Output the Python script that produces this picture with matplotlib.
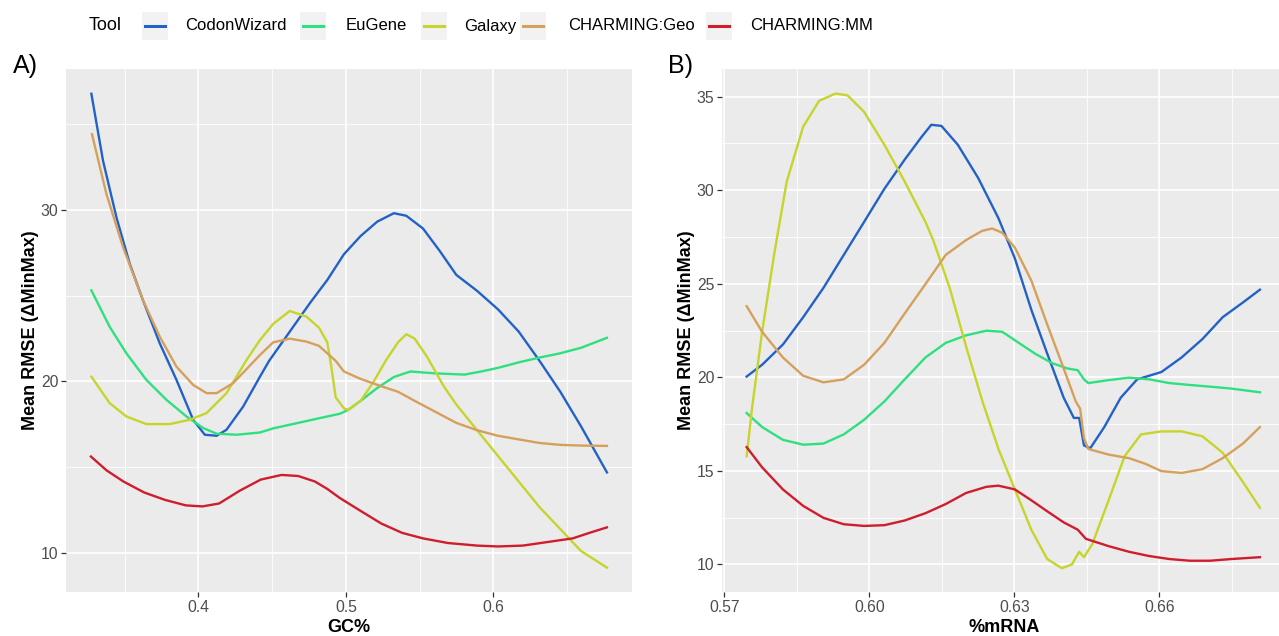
import matplotlib
matplotlib.use("Agg")
import matplotlib.pyplot as plt
from matplotlib.patches import Rectangle
from matplotlib.lines import Line2D

plt.rcParams["font.family"] = ["Liberation Sans", "DejaVu Sans"]

tools = ["CodonWizard", "EuGene", "Galaxy", "CHARMING:Geo", "CHARMING:MM"]
colors = ["#2262C6", "#2EE07E", "#C6D42C", "#D5A05C", "#CF1D2D"]

# Panel A: Mean RMSE vs GC%
a_cw_x = [0.3275, 0.3354, 0.3445, 0.3535, 0.3625, 0.3739, 0.3852, 0.3965, 0.4044, 0.4124, 0.4191,
          0.4304, 0.4418, 0.448, 0.462, 0.476, 0.4874, 0.4987, 0.51, 0.5213, 0.5326, 0.541, 0.5523,
          0.5636, 0.5749, 0.589, 0.6031, 0.6172, 0.6313, 0.6454, 0.6595, 0.677]
a_cw_y = [36.74, 32.84, 29.55, 26.85, 24.72, 22.21, 20.09, 17.77, 16.9, 16.84, 17.19,
          18.54, 20.28, 21.2, 22.9, 24.6, 25.9, 27.4, 28.46, 29.3, 29.79, 29.64, 28.9,
          27.6, 26.2, 25.27, 24.2, 22.9, 21.2, 19.4, 17.38, 14.71]

a_eu_x = [0.3275, 0.3399, 0.3513, 0.3648, 0.3784, 0.392, 0.4033, 0.4124, 0.4259, 0.4418, 0.4508,
          0.4677, 0.4846, 0.4959, 0.5015, 0.51, 0.5213, 0.5326, 0.5438, 0.5608, 0.5805, 0.5918,
          0.6031, 0.6172, 0.6313, 0.6454, 0.6595, 0.677]
a_eu_y = [25.3, 23.18, 21.63, 20.09, 18.93, 17.96, 17.29, 16.96, 16.9, 17.03, 17.27,
          17.59, 17.91, 18.12, 18.34, 18.87, 19.62, 20.26, 20.58, 20.47, 20.4, 20.58,
          20.79, 21.11, 21.39, 21.64, 21.96, 22.54]

a_ga_x = [0.3275, 0.3399, 0.3513, 0.3648, 0.3806, 0.3942, 0.4056, 0.4191, 0.4327, 0.4418, 0.4508,
          0.462, 0.4733, 0.4818, 0.4874, 0.4903, 0.4931, 0.4987, 0.5015, 0.51, 0.5185, 0.527,
          0.5354, 0.541, 0.5467, 0.5551, 0.5664, 0.5749, 0.589, 0.6031, 0.6172, 0.6313, 0.6454,
          0.6595, 0.677]
a_ga_y = [20.28, 18.74, 17.96, 17.52, 17.52, 17.77, 18.16, 19.32, 21.25, 22.41, 23.35,
          24.1, 23.77, 23.13, 22.28, 20.79, 19.08, 18.44, 18.34, 18.87, 19.94, 21.2,
          22.28, 22.75, 22.49, 21.43, 19.72, 18.66, 17.16, 15.67, 14.18, 12.69, 11.41,
          10.13, 9.17]

a_geo_x = [0.3279, 0.3377, 0.349, 0.3625, 0.3739, 0.3852, 0.3965, 0.4056, 0.4124, 0.4236, 0.4418,
           0.4508, 0.462, 0.4733, 0.4818, 0.4874, 0.4931, 0.4987, 0.51, 0.5241, 0.5354, 0.5467,
           0.5608, 0.5749, 0.589, 0.6031, 0.6172, 0.6313, 0.6454, 0.6595, 0.677]
a_geo_y = [34.39, 30.91, 27.81, 24.72, 22.6, 20.86, 19.8, 19.32, 19.32, 19.9, 21.54,
           22.28, 22.49, 22.32, 22.07, 21.64, 21.2, 20.58, 20.15, 19.72, 19.4, 18.87,
           18.23, 17.59, 17.16, 16.84, 16.63, 16.42, 16.31, 16.27, 16.25]

a_mm_x = [0.3272, 0.3379, 0.3492, 0.3633, 0.3774, 0.3915, 0.4028, 0.4141, 0.4282, 0.4423, 0.4564,
          0.4677, 0.479, 0.4874, 0.4959, 0.51, 0.5241, 0.5382, 0.5523, 0.5692, 0.589, 0.6031,
          0.62, 0.6369, 0.6538, 0.6651, 0.677]
a_mm_y = [15.63, 14.82, 14.18, 13.54, 13.11, 12.79, 12.73, 12.9, 13.65, 14.29, 14.56,
          14.5, 14.18, 13.75, 13.22, 12.47, 11.73, 11.19, 10.87, 10.6, 10.45, 10.4,
          10.45, 10.66, 10.87, 11.19, 11.51]

# Panel B: Mean RMSE vs %mRNA
b_cw_x = [0.5746, 0.5778, 0.5821, 0.5863, 0.5905, 0.5947, 0.5989, 0.6031, 0.6073, 0.6107, 0.6128,
          0.6149, 0.6183, 0.6225, 0.6267, 0.6301, 0.6335, 0.6368, 0.6402, 0.6423, 0.6434, 0.6444,
          0.6457, 0.6486, 0.652, 0.6554, 0.6604, 0.6646, 0.6689, 0.6731, 0.6773, 0.6808]
b_cw_y = [20.04, 20.67, 21.75, 23.21, 24.78, 26.54, 28.3, 30.07, 31.63, 32.81, 33.49,
          33.43, 32.42, 30.65, 28.5, 26.35, 23.61, 21.26, 18.91, 17.83, 17.83, 16.36,
          16.21, 17.34, 18.91, 19.89, 20.28, 21.06, 22.04, 23.21, 24.0, 24.68]

b_eu_x = [0.5746, 0.5778, 0.5821, 0.5863, 0.5905, 0.5947, 0.5989, 0.6031, 0.6073, 0.6116, 0.6158,
          0.62, 0.6242, 0.6275, 0.6309, 0.6343, 0.6377, 0.641, 0.6431, 0.6444, 0.6453, 0.6495,
          0.6537, 0.6579, 0.6621, 0.6663, 0.6705, 0.6748, 0.6808]
b_eu_y = [18.09, 17.34, 16.66, 16.4, 16.46, 16.95, 17.73, 18.71, 19.89, 21.06, 21.84,
          22.24, 22.49, 22.43, 21.84, 21.26, 20.77, 20.47, 20.38, 19.89, 19.69, 19.85,
          19.98, 19.89, 19.69, 19.59, 19.5, 19.4, 19.2]

b_ga_x = [0.5746, 0.5757, 0.5778, 0.5804, 0.5829, 0.5863, 0.5896, 0.593, 0.5955, 0.5989, 0.6031,
          0.6073, 0.6116, 0.6132, 0.6166, 0.62, 0.6234, 0.6267, 0.6301, 0.6335, 0.6368, 0.6398,
          0.6419, 0.6434, 0.6444, 0.6461, 0.6495, 0.6528, 0.6562, 0.6604, 0.6646, 0.6689, 0.6731,
          0.6773, 0.6808]
b_ga_y = [15.78, 18.32, 22.43, 26.74, 30.46, 33.39, 34.77, 35.16, 35.06, 34.18, 32.42,
          30.46, 28.3, 27.33, 24.78, 21.65, 18.71, 16.17, 14.01, 11.86, 10.29, 9.8,
          10.0, 10.68, 10.39, 11.08, 13.43, 15.78, 16.95, 17.11, 17.11, 16.85, 15.97,
          14.4, 13.03]

b_geo_x = [0.5746, 0.5778, 0.5821, 0.5863, 0.5905, 0.5947, 0.5989, 0.6031, 0.6073, 0.6116, 0.6158,
           0.62, 0.6233, 0.6254, 0.6275, 0.6301, 0.6335, 0.6368, 0.6402, 0.6427, 0.6436, 0.6444,
           0.6453, 0.6495, 0.6537, 0.6571, 0.6604, 0.6646, 0.6689, 0.6731, 0.6773, 0.6808]
b_geo_y = [23.8, 22.43, 21.06, 20.08, 19.73, 19.89, 20.67, 21.84, 23.41, 24.98, 26.54,
           27.33, 27.82, 27.95, 27.72, 26.93, 25.17, 22.82, 20.47, 18.71, 18.32, 16.75,
           16.17, 15.87, 15.68, 15.38, 14.99, 14.89, 15.09, 15.68, 16.46, 17.34]

b_mm_x = [0.5746, 0.5778, 0.5821, 0.5863, 0.5905, 0.5947, 0.5989, 0.6031, 0.6073, 0.6116, 0.6158,
          0.62, 0.6242, 0.6267, 0.6301, 0.6335, 0.6368, 0.6402, 0.6431, 0.6448, 0.6495, 0.6537,
          0.6579, 0.6621, 0.6663, 0.6705, 0.6748, 0.6808]
b_mm_y = [16.27, 15.19, 14.01, 13.13, 12.49, 12.15, 12.06, 12.1, 12.35, 12.74, 13.23,
          13.82, 14.15, 14.21, 14.01, 13.43, 12.84, 12.25, 11.86, 11.37, 10.98, 10.68,
          10.45, 10.29, 10.2, 10.2, 10.29, 10.39]

a_xticks = [0.4, 0.5, 0.6]
a_xlabels = ["0.4", "0.5", "0.6"]
a_yticks = [10, 20, 30]
b_xticks = [0.57, 0.60, 0.63, 0.66]
b_xlabels = ["0.57", "0.60", "0.63", "0.66"]
b_yticks = [10, 15, 20, 25, 30, 35]

W, H = 1279, 636
fig = plt.figure(figsize=(W / 100, H / 100), dpi=100)
fig.patch.set_facecolor("white")


def style_axes(ax, xlim, ylim, xticks, xlabels, yticks, xminor, yminor, xlabel):
    ax.set_facecolor("#EBEBEB")
    for s in ax.spines.values():
        s.set_visible(False)
    ax.set_xlim(*xlim)
    ax.set_ylim(*ylim)
    ax.set_xticks(xticks)
    ax.set_xticklabels(xlabels)
    ax.set_yticks(yticks)
    ax.set_xticks(xminor, minor=True)
    ax.set_yticks(yminor, minor=True)
    ax.grid(which="major", color="white", lw=1.2)
    ax.grid(which="minor", color="white", lw=0.6)
    ax.set_axisbelow(True)
    ax.tick_params(which="major", length=3.5, width=0.9, color="#333333",
                   labelcolor="#4D4D4D", labelsize=11.3, pad=2)
    ax.tick_params(which="minor", length=0)
    ax.set_xlabel(xlabel, fontsize=13, fontweight="bold", labelpad=3)
    ax.set_ylabel("Mean RMSE (ΔMinMax)", fontsize=13, fontweight="bold", labelpad=1.5)


axA = fig.add_axes([66 / W, 44 / H, 566 / W, 523 / H])
axB = fig.add_axes([722 / W, 44 / H, 564 / W, 523 / H])

seriesA = [(a_cw_x, a_cw_y), (a_eu_x, a_eu_y), (a_ga_x, a_ga_y), (a_geo_x, a_geo_y), (a_mm_x, a_mm_y)]
seriesB = [(b_cw_x, b_cw_y), (b_eu_x, b_eu_y), (b_ga_x, b_ga_y), (b_geo_x, b_geo_y), (b_mm_x, b_mm_y)]

for (x, y), c in zip(seriesA, colors):
    axA.plot(x, y, color=c, lw=1.7, solid_joinstyle="round")
for (x, y), c in zip(seriesB, colors):
    axB.plot(x, y, color=c, lw=1.7, solid_joinstyle="round")

style_axes(axA, (0.3103, 0.694), (7.75, 38.18), a_xticks, a_xlabels, a_yticks,
           [0.35, 0.45, 0.55, 0.65], [15, 25, 35], "GC%")
style_axes(axB, (0.5695, 0.6862), (8.53, 36.47), b_xticks, b_xlabels, b_yticks,
           [0.585, 0.615, 0.645, 0.675], [12.5, 17.5, 22.5, 27.5, 32.5], "%mRNA")

# panel letters
fig.text(13 / W, 1 - 73 / H, "A)", fontsize=18, ha="left", va="baseline")
fig.text(668 / W, 1 - 73 / H, "B)", fontsize=18, ha="left", va="baseline")

# legend across the top
ly = 1 - 26 / H
fig.text(89 / W, ly, "Tool", fontsize=13, ha="left", va="center")
key_cx = [155, 313, 434, 533, 719]
text_x = [185, 346, 464, 568, 750]
for name, c, kx, tx in zip(tools, colors, key_cx, text_x):
    fig.add_artist(Rectangle(((kx - 13) / W, ly - 14 / H), 26 / W, 28 / H,
                             transform=fig.transFigure, facecolor="#F2F2F2", edgecolor="none"))
    fig.add_artist(Line2D([(kx - 10) / W, (kx + 10) / W], [ly, ly],
                          transform=fig.transFigure, color=c, lw=2.2))
    fig.text(tx / W, ly, name, fontsize=12, ha="left", va="center")

fig.savefig("out.png", dpi=100)
